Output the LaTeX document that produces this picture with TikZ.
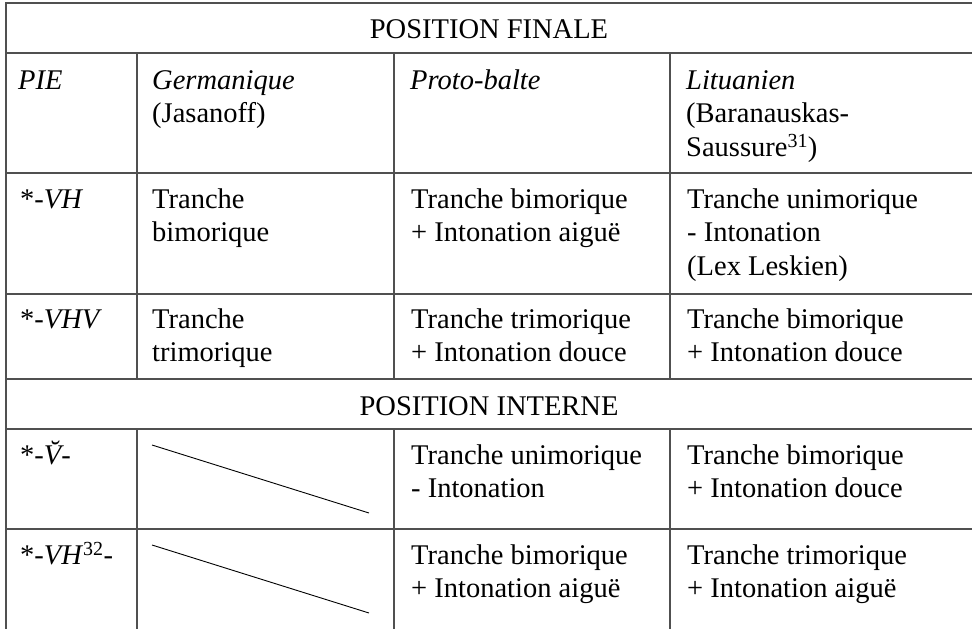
\documentclass[tikz,border=0pt]{standalone}
\usepackage{fontspec}
\setmainfont{Liberation Serif}
\definecolor{rule}{HTML}{505050}
\begin{document}
\begin{tikzpicture}[x=1pt,y=-1pt,
  grid/.style={draw=rule,line width=1.5pt},
  slash/.style={draw=black,line width=0.9pt},
  cell/.style={anchor=north west,inner sep=0pt,align=left,
    font={\fontsize{28.5}{33.5}\selectfont}},
  banner/.style={anchor=base,inner sep=0pt,
    font={\fontsize{28.5}{33.5}\selectfont}}]
\useasboundingbox (0,0) rectangle (972,629);
\fill[white] (0,0) rectangle (972,629);
% horizontal rules
\coordinate (h0l) at (6,3);   \coordinate (h0r) at (972,3);
\coordinate (h1l) at (6,53);  \coordinate (h1r) at (972,53);
\coordinate (h2l) at (6,173); \coordinate (h2r) at (972,173);
\coordinate (h3l) at (6,294); \coordinate (h3r) at (972,294);
\coordinate (h4l) at (6,379); \coordinate (h4r) at (972,379);
\coordinate (h5l) at (6,429); \coordinate (h5r) at (972,429);
\coordinate (h6l) at (6,529); \coordinate (h6r) at (972,529);
\draw[grid] (h0l) -- (h0r);
\draw[grid] (h1l) -- (h1r);
\draw[grid] (h2l) -- (h2r);
\draw[grid] (h3l) -- (h3r);
\draw[grid] (h4l) -- (h4r);
\draw[grid] (h5l) -- (h5r);
\draw[grid] (h6l) -- (h6r);
% vertical rules
\coordinate (vlt) at (6,2.25); \coordinate (vlb) at (6,629);
\draw[grid] (vlt) -- (vlb);
\coordinate (c1a) at (137,53);  \coordinate (c1b) at (137,379);
\coordinate (c2a) at (394,53);  \coordinate (c2b) at (394,379);
\coordinate (c3a) at (670,53);  \coordinate (c3b) at (670,379);
\coordinate (c1c) at (137,429); \coordinate (c1d) at (137,629);
\coordinate (c2c) at (394,429); \coordinate (c2d) at (394,629);
\coordinate (c3c) at (670,429); \coordinate (c3d) at (670,629);
\draw[grid] (c1a) -- (c1b);
\draw[grid] (c2a) -- (c2b);
\draw[grid] (c3a) -- (c3b);
\draw[grid] (c1c) -- (c1d);
\draw[grid] (c2c) -- (c2d);
\draw[grid] (c3c) -- (c3d);
% diagonals in empty cells
\coordinate (d1a) at (152,445); \coordinate (d1b) at (369,513);
\coordinate (d2a) at (152,545); \coordinate (d2b) at (369,613);
\draw[slash] (d1a) -- (d1b);
\draw[slash] (d2a) -- (d2b);
% banners
\node[banner] (finale) at (489,38) {POSITION FINALE};
\node[banner] (interne) at (489,415) {POSITION INTERNE};
% header row (baseline 89)
\node[cell] (hpie) at (18,65.5) {\strut\itshape PIE};
\node[cell] (hger) at (152,65.5) {\strut\itshape Germanique\\(Jasanoff)};
\node[cell] (hpro) at (410,65.5) {\strut\itshape Proto-balte};
\node[cell] (hlit) at (686,65.5) {\strut\itshape Lituanien\\(Baranauskas-\\Saussure\textsuperscript{31})};
% row VH (baseline 208)
\node[cell] (a1) at (20,184.5) {\strut*-\textit{VH}};
\node[cell] (a2) at (152,184.5) {\strut Tranche\\bimorique};
\node[cell] (a3) at (411,184.5) {\strut Tranche bimorique\\+ Intonation aiguë};
\node[cell] (a4) at (687,184.5) {\strut Tranche unimorique\\- Intonation\\(Lex Leskien)};
% row VHV (baseline 328)
\node[cell] (b1) at (20,304.5) {\strut*-\textit{VHV}};
\node[cell] (b2) at (152,304.5) {\strut Tranche\\trimorique};
\node[cell] (b3) at (411,304.5) {\strut Tranche trimorique\\+ Intonation douce};
\node[cell] (b4) at (687,304.5) {\strut Tranche bimorique\\+ Intonation douce};
% row V breve (baseline 464)
\node[cell] (c1) at (20,440.5) {\strut*-{\itshape V̆}-};
\node[cell] (c3) at (411,440.5) {\strut Tranche unimorique\\- Intonation};
\node[cell] (c4) at (687,440.5) {\strut Tranche bimorique\\+ Intonation douce};
% row VH32 (baseline 564)
\node[cell] (e1) at (20,540.5) {\strut*-\textit{VH}\textsuperscript{32}-};
\node[cell] (e3) at (411,540.5) {\strut Tranche bimorique\\+ Intonation aiguë};
\node[cell] (e4) at (687,540.5) {\strut Tranche trimorique\\+ Intonation aiguë};
\end{tikzpicture}
\end{document}
